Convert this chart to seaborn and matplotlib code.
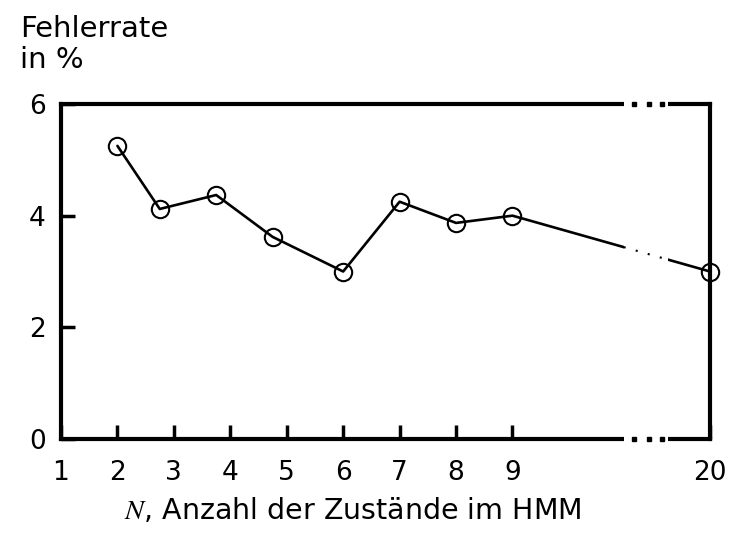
import numpy as np
import matplotlib
matplotlib.use("Agg")
import matplotlib.pyplot as plt
import seaborn as sns

# data
n_states = [2, 2.75, 3.75, 4.75, 6, 7, 8, 9, 20]
error_rate = [5.25, 4.12, 4.37, 3.62, 3.0, 4.25, 3.87, 4.0, 3.0]
x_ticks = [1, 2, 3, 4, 5, 6, 7, 8, 9, 20]
y_ticks = [0, 2, 4, 6]

# broken axis: everything after 9 is squeezed, 20 sits at 12.5
BREAK_POS = 12.5
def to_pos(v):
    v = np.asarray(v, dtype=float)
    return np.where(v <= 9, v, BREAK_POS)

sns.set_theme(style="white")
plt.rcParams['font.family'] = ['DejaVu Sans']
plt.rcParams['mathtext.fontset'] = 'stix'

fig = plt.figure(figsize=(7.34, 5.38), dpi=100)
ax = fig.add_axes([0.0831, 0.184, 0.8842, 0.6227])

sns.lineplot(x=to_pos(n_states), y=error_rate, ax=ax, sort=False, color='black',
             lw=1.9, marker='o', markersize=12.5, markerfacecolor='none',
             markeredgecolor='black', markeredgewidth=1.5, clip_on=False, zorder=5)

ax.set_xlim(1, BREAK_POS)
ax.set_ylim(0, 6)
ax.set_xticks(to_pos(x_ticks))
ax.set_xticklabels([str(t) for t in x_ticks])
ax.set_yticks(y_ticks)
ax.set_yticklabels([str(t) for t in y_ticks])

for s in ax.spines.values():
    s.set_color('black')
    s.set_linewidth(3)
ax.tick_params(axis='x', direction='in', length=10, width=2.5, pad=15,
               labelsize=19, colors='black', bottom=True)
ax.tick_params(axis='y', direction='in', length=10, width=2.5, pad=11,
               labelsize=19, colors='black', left=True)
ax.grid(False)

# break gap: white band over spines and line, then dots
gap0, gap1 = 10.97, 11.76
ax.axvspan(gap0, gap1, ymin=-0.02, ymax=1.02, color='white', zorder=6, clip_on=False, lw=0)
for yv in (0, 6):
    ax.plot([11.15, 11.42, 11.65], [yv] * 3, ls='none', marker='s', ms=2.2,
            color='black', clip_on=False, zorder=7)
y_a = np.interp(gap0, [9, BREAK_POS], [error_rate[7], error_rate[8]])
y_b = np.interp(gap1, [9, BREAK_POS], [error_rate[7], error_rate[8]])
ax.plot([gap0, gap1], [y_a, y_b], color='black', lw=1.5, ls=(0, (1, 5)), zorder=7)

ax.set_xlabel(r"$N$, Anzahl der Zustände im HMM", fontsize=20.5, color='black')
ax.xaxis.set_label_coords(0.45, -0.17)
fig.text(0.027, 0.972, "Fehlerrate\nin %", fontsize=21, ha='left', va='top',
         linespacing=1.15, color='black')

fig.savefig("out.png", dpi=100)
